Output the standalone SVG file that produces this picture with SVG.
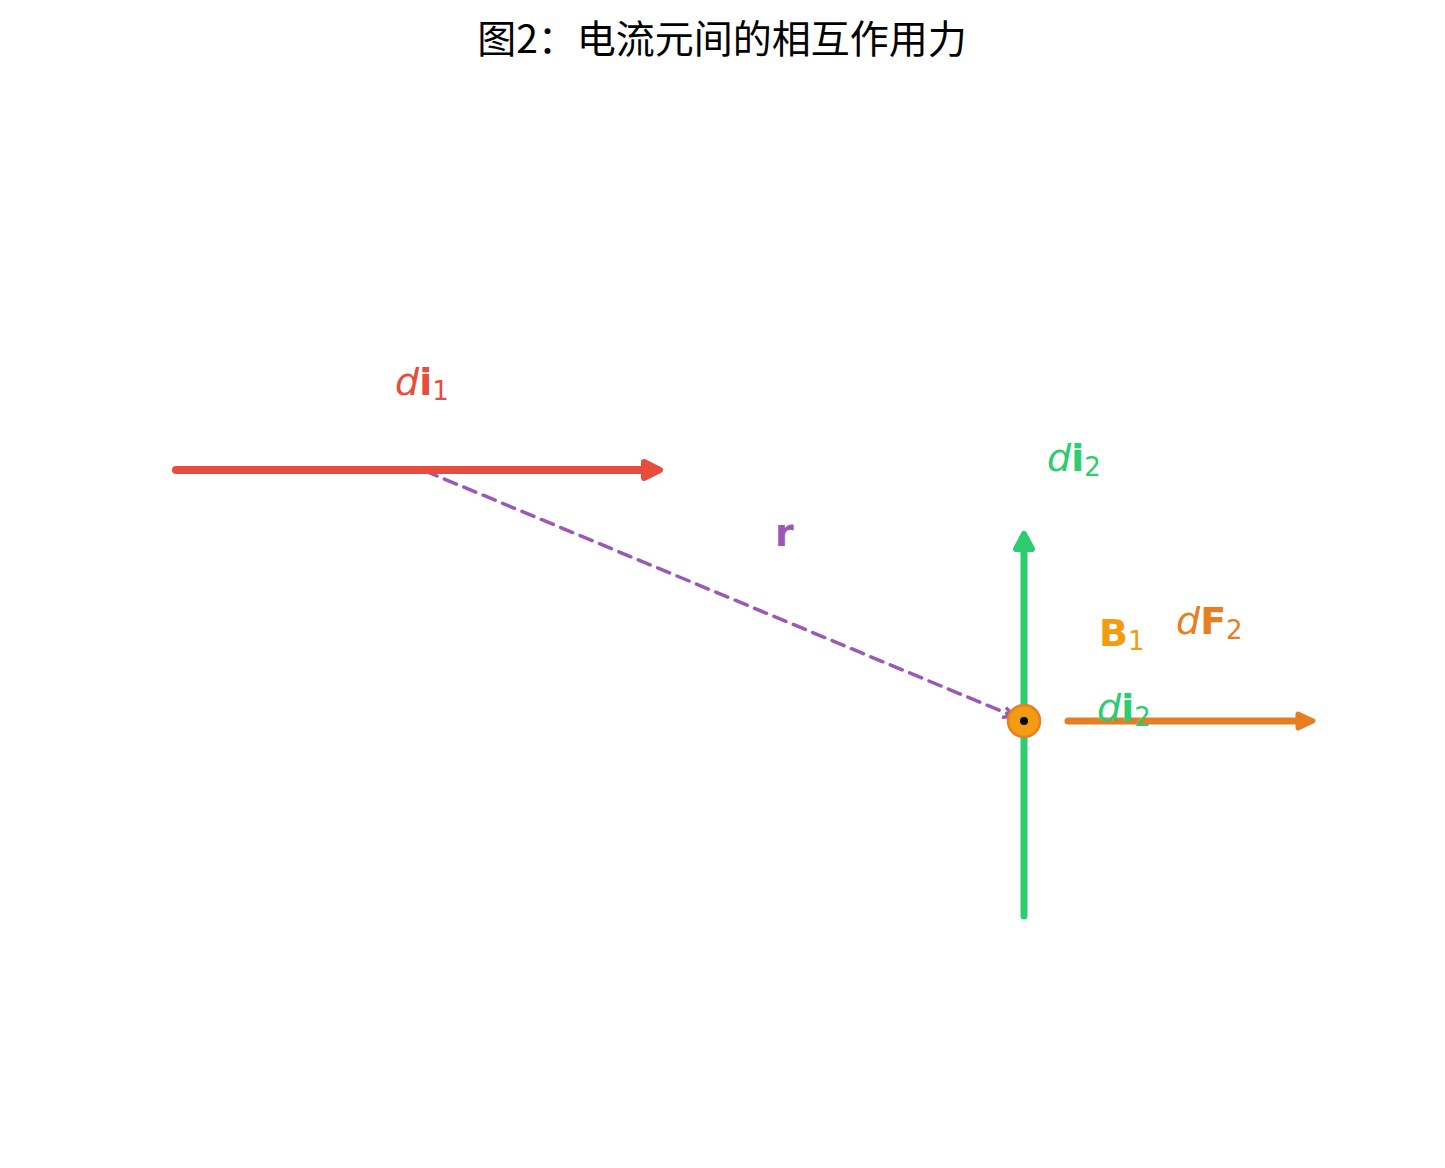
<svg xmlns="http://www.w3.org/2000/svg" width="1445" height="1168" viewBox="0 0 1445 1168">
<style>
.lbl{font-family:"DejaVu Sans","Liberation Sans",sans-serif;font-size:38px}
.it{font-style:italic}
.bd{font-weight:bold}
.sub{font-size:26px}
.title{font-family:"Noto Sans CJK SC","Noto Sans",sans-serif;font-size:39px;fill:#000}
</style>
<defs>
<marker id="headPurple" markerWidth="14" markerHeight="14" refX="10" refY="6" orient="auto" markerUnits="userSpaceOnUse">
<path d="M1,1 L10,6 L1,11" fill="none" stroke="#9b59b6" stroke-width="3.5" stroke-linecap="round" stroke-linejoin="round"/>
</marker>
</defs>
<rect width="1445" height="1168" fill="#fff"/>
<text class="title" x="722" y="53" text-anchor="middle">图2：电流元间的相互作用力</text>
<g id="connectors">
<g id="r-vector">
<line x1="425" y1="471" x2="1013" y2="716" stroke="#9b59b6" stroke-width="3.5" stroke-dasharray="13,8" stroke-linecap="round" marker-end="url(#headPurple)"/>
</g>
</g>
<g id="di1">
<line x1="176" y1="470" x2="652" y2="470" stroke="#e74c3c" stroke-width="8" stroke-linecap="round"/>
<path d="M644,462 L660,470 L644,478 Z" fill="#e74c3c" stroke="#e74c3c" stroke-width="6" stroke-linejoin="round"/>
</g>
<g id="di2">
<line x1="1024" y1="916" x2="1024" y2="542" stroke="#2ecc71" stroke-width="7" stroke-linecap="round"/>
<path d="M1016,549 L1024,534 L1032,549 Z" fill="#2ecc71" stroke="#2ecc71" stroke-width="6" stroke-linejoin="round"/>
</g>
<g id="dF2">
<line x1="1068" y1="721" x2="1305" y2="721" stroke="#e67e22" stroke-width="7" stroke-linecap="round"/>
<path d="M1298,714 L1313,721 L1298,728 Z" fill="#e67e22" stroke="#e67e22" stroke-width="5" stroke-linejoin="round"/>
</g>
<g id="B1-dot">
<circle cx="1024" cy="721" r="16" fill="#f39c12" stroke="#e67e22" stroke-width="2.5"/>
<circle cx="1024" cy="721" r="4" fill="#000"/>
</g>
<g id="labels">
<text class="lbl" x="395" y="395" fill="#e74c3c"><tspan class="it">d</tspan><tspan class="bd">i</tspan><tspan class="sub" dy="5">1</tspan></text>
<text class="lbl" x="1047" y="471" fill="#2ecc71"><tspan class="it">d</tspan><tspan class="bd">i</tspan><tspan class="sub" dy="5">2</tspan></text>
<text class="lbl bd" x="775" y="546" fill="#9b59b6">r</text>
<text class="lbl" x="1099" y="646" fill="#f39c12"><tspan class="bd">B</tspan><tspan class="sub" dy="4">1</tspan></text>
<text class="lbl" x="1176" y="634" fill="#e67e22"><tspan class="it">d</tspan><tspan class="bd">F</tspan><tspan class="sub" dy="5">2</tspan></text>
<text class="lbl" x="1097" y="721" fill="#2ecc71"><tspan class="it">d</tspan><tspan class="bd">i</tspan><tspan class="sub" dy="5">2</tspan></text>
</g>
</svg>
